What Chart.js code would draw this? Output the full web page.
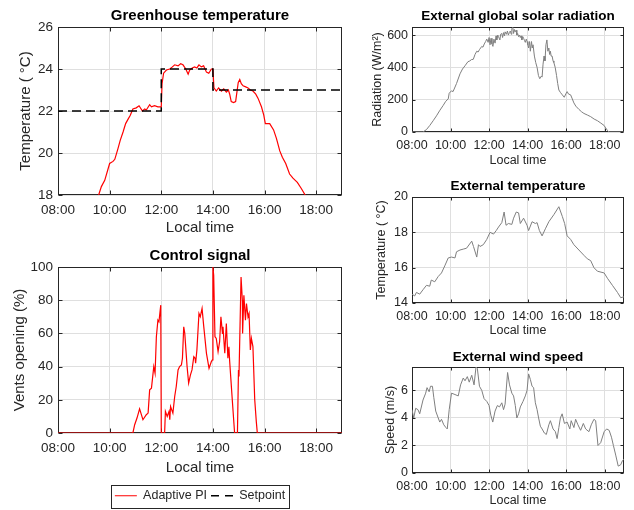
<!DOCTYPE html>
<html>
<head>
<meta charset="utf-8">
<script src="https://cdn.jsdelivr.net/npm/chart.js@4.4.0/dist/chart.umd.min.js"></script>
<style>
  html, body { margin: 0; padding: 0; background: #fff; }
  body { width: 634px; height: 510px; position: relative; overflow: hidden; }
  canvas { position: absolute; }
</style>
</head>
<body>
<canvas id="ghChart"></canvas>
<canvas id="ctrlChart"></canvas>
<canvas id="solarChart"></canvas>
<canvas id="extChart"></canvas>
<canvas id="windChart"></canvas>
<script>
// ---------- data (hours of the day, values) ----------
const timeTicks = [8, 10, 12, 14, 16, 18];

const ghTime = [9.3, 9.575, 9.68, 9.81, 10.0, 10.13, 10.2, 10.32, 10.41, 10.52, 10.62, 10.71, 10.8, 10.9, 11.03, 11.14, 11.27, 11.36, 11.42, 11.55, 11.62, 11.74, 11.87, 12.0,
  12.03, 12.09, 12.2, 12.33, 12.43, 12.52, 12.65, 12.75, 12.84, 12.95, 13.04, 13.1, 13.2, 13.29, 13.38, 13.46, 13.55, 13.64, 13.75, 13.84, 13.94, 14.0,
  14.04, 14.13, 14.22, 14.33, 14.42, 14.52, 14.6, 14.65, 14.71, 14.8, 14.88, 14.93, 14.98, 15.04, 15.1, 15.17, 15.27, 15.36, 15.45, 15.55, 15.66, 15.75,
  15.88, 15.97, 16.03, 16.2, 16.35, 16.46, 16.59, 16.69, 16.82, 16.97, 17.1, 17.27, 17.43, 17.62, 17.81];
const ghTemp = [17.0, 18.0, 18.4, 18.7, 19.5, 19.6, 19.7, 20.2, 20.6, 21.0, 21.4, 21.6, 21.8, 22.1, 22.15, 22.25, 22.0, 22.1, 22.05, 22.3, 22.2, 22.25, 22.2, 22.2,
  23.3, 23.8, 23.95, 24.0, 24.1, 24.2, 24.15, 24.25, 24.2, 24.0, 23.75, 23.95, 24.05, 24.1, 24.05, 24.2, 24.1, 24.15, 23.85, 23.8, 24.0, 24.0,
  23.1, 22.95, 23.1, 22.95, 23.05, 22.9, 23.0, 22.8, 22.45, 22.4, 22.45, 22.9, 23.35, 23.5, 23.3, 23.2, 23.15, 23.1, 23.0, 22.95, 22.8, 22.6,
  22.2, 21.8, 21.4, 21.4, 21.1, 20.7, 20.1, 19.8, 19.5, 19.0, 18.8, 18.6, 18.3, 17.9, 17.4];

const spTime = [8, 12, 12, 14, 14, 19];
const spTemp = [22, 22, 24, 24, 23, 23];
const ghTicks = [18, 20, 22, 24, 26];

const ctrlTime = [8.0, 10.9, 10.97, 11.06, 11.16, 11.29, 11.42, 11.49, 11.55, 11.62, 11.71, 11.76, 11.81, 11.87, 11.91, 11.98, 12.0, 12.13, 12.16, 12.23, 12.3, 12.33, 12.36, 12.45,
  12.52, 12.58, 12.65, 12.71, 12.78, 12.82, 12.87, 12.91, 13.0, 13.06, 13.13, 13.19, 13.26, 13.31, 13.33, 13.38, 13.46, 13.51, 13.58, 13.64, 13.75, 13.85, 13.94, 13.98,
  14.0, 14.03, 14.08, 14.13, 14.2, 14.26, 14.31, 14.37, 14.39, 14.46, 14.52, 14.58, 14.62, 14.65, 14.75, 14.84, 14.95, 14.99, 15.01, 15.09, 15.14, 15.15, 15.2, 15.26,
  15.3, 15.36, 15.4, 15.45, 15.49, 15.55, 15.62, 15.68, 15.72, 19.0];
const ctrlVal = [0, 0, 5, 9, 14.5, 8, 11, 12, 26, 27, 40, 36, 58, 68, 67, 77, 0, 0, 13, 10, 13, 8, 16, 12,
  22, 28, 38, 40, 41, 45, 64, 60, 40, 30, 35, 38, 46, 45, 42, 50, 72, 70, 75, 65, 48, 39, 43, 44,
  100, 95, 58, 57, 49, 55, 70, 60, 64, 48, 66, 45, 52, 43, 20, 0, 0, 38, 34, 94, 80, 60, 83, 68,
  78, 70, 72, 50, 57, 52, 20, 7, 0, 0];
const ctrlTicks = [0, 20, 40, 60, 80, 100];

const solarTime = [8.0, 8.57, 8.75, 8.92, 9.1, 9.27, 9.45, 9.62, 9.75, 9.88, 9.93, 10.05, 10.13, 10.31, 10.49, 10.62, 10.75, 10.9,
  11.0, 11.08, 11.18, 11.27, 11.36, 11.43, 11.5, 11.56, 11.62, 11.68, 11.75, 11.82, 11.88, 11.95, 12.0, 12.05, 12.1, 12.15, 12.2, 12.25,
  12.31, 12.36, 12.4, 12.45, 12.49, 12.56, 12.6, 12.66, 12.7, 12.75, 12.8, 12.83, 12.9, 12.95, 13.0, 13.05, 13.1, 13.15, 13.18, 13.23,
  13.27, 13.31, 13.35, 13.4, 13.44, 13.48, 13.53, 13.58, 13.62, 13.66, 13.7, 13.75, 13.79, 13.84, 13.88, 13.93, 13.97, 14.01, 14.05, 14.1,
  14.14, 14.2, 14.24, 14.28, 14.35, 14.42, 14.49, 14.56, 14.63, 14.7, 14.75, 14.8, 14.85, 14.9, 14.95, 15.0, 15.05, 15.1, 15.14, 15.18,
  15.22, 15.27, 15.32, 15.36, 15.43, 15.5, 15.56, 15.62, 15.7, 15.8, 15.9, 16.0, 16.05, 16.12, 16.23, 16.3, 16.4, 16.5, 16.66, 16.8,
  16.92, 17.1, 17.27, 17.45, 17.62, 17.8, 17.97, 18.05, 18.14, 18.22, 19.0];
const solarVal = [0, 0, 15, 40, 70, 100, 135, 165, 190, 205, 240, 255, 250, 300, 360, 390, 410, 435,
  440, 448, 450, 480, 500, 495, 510, 520, 530, 525, 545, 560, 575, 555, 585, 540, 580, 545, 530, 575,
  550, 595, 570, 600, 590, 570, 605, 610, 585, 615, 595, 620, 605, 625, 600, 615, 625, 605, 640, 648,
  610, 635, 620, 630, 600, 610, 590, 600, 585, 595, 570, 590, 580, 565, 555, 575, 560, 540, 520, 560,
  500, 560, 520, 540, 470, 430, 400, 350, 330, 345, 340, 420, 470, 440, 540, 570, 500, 520, 480, 500,
  470, 470, 440, 430, 400, 350, 300, 260, 245, 230, 215, 240, 250, 235, 230, 210, 180, 160, 140, 125,
  115, 105, 95, 80, 70, 55, 40, 25, 10, 0, 0];
const solarTicks = [0, 200, 400, 600];

const extTime = [8.0, 8.14, 8.23, 8.4, 8.57, 8.75, 8.92, 9.0, 9.18, 9.36, 9.53, 9.7, 9.88, 10.05, 10.23, 10.31, 10.49, 10.66, 10.83, 11.1, 11.19, 11.36, 11.45, 11.53,
  11.7, 11.88, 12.05, 12.23, 12.37, 12.49, 12.66, 12.78, 12.88, 13.0, 13.18, 13.27, 13.41, 13.53, 13.62, 13.79, 13.97, 14.05, 14.23, 14.4, 14.49, 14.61, 14.75, 14.92,
  15.1, 15.36, 15.62, 15.8, 15.92, 16.05, 16.23, 16.4, 16.66, 16.92, 17.1, 17.27, 17.44, 17.62, 17.97, 18.14, 18.4, 18.66, 18.83, 19.0];
const extTemp = [14.5, 14.4, 14.6, 14.5, 14.75, 15.0, 14.95, 15.3, 15.2, 15.5, 15.7, 16.1, 16.55, 16.6, 16.55, 16.9, 17.0, 17.05, 17.1, 17.5, 17.2, 16.6, 17.3, 17.2,
  17.3, 17.6, 18.0, 17.9, 18.1, 18.3, 18.55, 19.15, 18.4, 18.5, 18.45, 18.8, 19.15, 19.1, 18.5, 18.8, 18.4, 18.1, 18.6, 18.5, 18.55, 18.1, 17.8, 18.2,
  18.6, 19.0, 19.45, 18.9, 18.5, 17.8, 17.6, 17.3, 17.0, 16.7, 16.5, 16.4, 16.0, 15.8, 15.7, 15.4, 15.0, 14.6, 14.3, 14.35];
const extTicks = [14, 16, 18, 20];

const windTime = [8.0, 8.09, 8.19, 8.31, 8.4, 8.57, 8.71, 8.78, 8.89, 8.96, 9.06, 9.13, 9.23, 9.36, 9.44, 9.53, 9.65, 9.76, 9.83, 9.93, 10.05, 10.23, 10.4, 10.52,
  10.66, 10.75, 10.87, 10.97, 11.1, 11.22, 11.32, 11.39, 11.5, 11.62, 11.74, 11.88, 12.0, 12.09, 12.19, 12.31, 12.43, 12.54, 12.66, 12.75, 12.83, 12.96, 13.06, 13.18,
  13.27, 13.36, 13.44, 13.53, 13.62, 13.76, 13.88, 13.97, 14.05, 14.14, 14.23, 14.31, 14.4, 14.49, 14.57, 14.66, 14.75, 14.87, 14.97, 15.1, 15.18, 15.32, 15.44, 15.53,
  15.62, 15.7, 15.79, 15.91, 16.05, 16.19, 16.26, 16.4, 16.49, 16.61, 16.75, 16.89, 17.01, 17.18, 17.3, 17.44, 17.53, 17.65, 17.79, 17.97, 18.1, 18.23, 18.35, 18.45,
  18.57, 18.7, 18.83, 18.92, 19.0];
const windVal = [4.6, 4.0, 4.7, 4.6, 4.3, 5.3, 5.8, 6.2, 5.9, 6.3, 6.3, 5.5, 4.5, 4.0, 3.7, 3.9, 3.5, 3.3, 3.2, 4.6, 5.8, 5.7, 5.6, 6.4,
  6.9, 6.7, 7.0, 6.6, 7.1, 6.4, 7.7, 7.6, 6.3, 6.0, 5.4, 5.2, 4.9, 4.2, 3.7, 4.5, 4.9, 4.8, 5.1, 4.6, 5.0, 7.3, 6.4, 5.8,
  5.6, 4.9, 4.0, 4.3, 4.8, 5.2, 5.6, 6.0, 7.2, 6.8, 6.3, 6.2, 5.1, 4.6, 4.0, 3.4, 3.2, 2.9, 2.8, 3.5, 3.8, 3.2, 3.0, 2.5,
  3.3, 4.0, 4.3, 3.6, 3.7, 3.2, 3.8, 3.3, 3.9, 3.5, 3.1, 3.6, 3.2, 3.0, 3.5, 3.9, 3.8, 2.0, 2.2, 3.0, 3.2, 3.1, 2.6, 2.0,
  1.3, 0.5, 0.6, 0.9, 1.0];
const windTicks = [0, 2, 4, 6];

// ---------- style ----------
const FONT = '"Liberation Sans", Arial, Helvetica, sans-serif';
const INK = '#262626';
const GRID = '#dfdfdf';
const RED = '#ff0000';
const GRAY = '#7f7f7f';
const LEG_FS = 12.5, LEG_PAD = 4;

const pts = (xs, ys) => xs.map((x, i) => ({ x, y: ys[i] }));
const hhmm = v => String(v).padStart(2, '0') + ':00';

// box, inward ticks and title in MATLAB style
const frame = {
  id: 'frame',
  beforeDatasetsDraw(chart, args, opts) {
    const { ctx, chartArea: a, scales } = chart;
    const L = Math.round(a.left) + 0.5, R = Math.round(a.right) - 0.5;
    const T = Math.round(a.top) + 0.5, B = Math.round(a.bottom) - 0.5;
    const len = opts.tick;
    ctx.save();
    ctx.strokeStyle = INK;
    ctx.lineWidth = 1;
    ctx.strokeRect(L, T, R - L, B - T);
    ctx.beginPath();
    scales.x.ticks.forEach(t => {
      const px = Math.round(scales.x.getPixelForValue(t.value)) + 0.5;
      ctx.moveTo(px, B); ctx.lineTo(px, B - len);
      ctx.moveTo(px, T); ctx.lineTo(px, T + len);
    });
    scales.y.ticks.forEach(t => {
      const py = Math.round(scales.y.getPixelForValue(t.value)) + 0.5;
      ctx.moveTo(L, py); ctx.lineTo(L + len, py);
      ctx.moveTo(R, py); ctx.lineTo(R - len, py);
    });
    ctx.stroke();
    ctx.fillStyle = '#000';
    ctx.font = 'bold ' + opts.size + 'px ' + FONT;
    ctx.textAlign = 'center';
    ctx.textBaseline = 'middle';
    ctx.fillText(opts.text, (a.left + a.right) / 2, opts.y);
    ctx.restore();
  },
  afterDraw(chart, args, opts) {
    if (!opts.legendBox) return;
    const hb = chart.legend.legendHitBoxes;
    if (!hb || !hb.length) return;
    const l = Math.min(...hb.map(h => h.left)) - 4;
    const r = Math.max(...hb.map(h => h.left + h.width)) + 4;
    const t = Math.min(...hb.map(h => h.top)) - 5;
    const b = Math.max(...hb.map(h => h.top + h.height)) + 5;
    const { ctx } = chart;
    ctx.save();
    ctx.strokeStyle = INK;
    ctx.lineWidth = 1;
    ctx.strokeRect(Math.round(l) + 0.5, Math.round(t) + 0.5, Math.round(r - l), Math.round(b - t));
    ctx.restore();
  }
};

function panel(id, p) {
  const cv = document.getElementById(id);
  const box = p.box, area = p.area;
  cv.width = box.w; cv.height = box.h;
  cv.style.left = box.x + 'px';
  cv.style.top = box.y + 'px';

  const legH = p.legend ? LEG_FS + LEG_PAD + 10 : 0;
  const lh = p.labelFs * 1.2;
  const yWidth = area.left - box.x;
  const xHeight = box.h - legH - (area.bottom - box.y);
  const tickFont = { family: FONT, size: p.tickFs };
  const labelFont = { family: FONT, size: p.labelFs };

  const scales = {
    x: {
      type: 'linear', min: 8, max: 19,
      afterBuildTicks: s => { s.ticks = timeTicks.map(v => ({ value: v })); },
      afterFit: s => { s.height = xHeight; },
      ticks: { callback: hhmm, font: tickFont, color: INK, padding: p.xPad, maxRotation: 0, autoSkip: false },
      grid: { color: GRID, drawTicks: false },
      border: { display: false },
      title: { display: true, text: 'Local time', font: labelFont, color: INK,
        padding: { top: 0, bottom: (box.h - legH) - (p.xTitleY - box.y) - lh / 2 } }
    },
    y: {
      type: 'linear', min: p.yMin, max: p.yMax,
      afterBuildTicks: s => { s.ticks = p.yTicks.map(v => ({ value: v })); },
      afterFit: s => { s.width = yWidth; },
      ticks: { font: tickFont, color: INK, padding: p.yPad },
      grid: { color: GRID, drawTicks: false },
      border: { display: false },
      title: { display: true, text: p.yLabel, font: labelFont, color: INK,
        padding: { top: p.yTitleX - box.x - lh / 2, bottom: 0 } }
    }
  };
  let padRight = box.x + box.w - area.right;
  if (p.rightSpace) {
    // empty right-hand axis so that the legend centres under the plot
    const w = padRight;
    scales.yr = {
      type: 'linear', position: 'right', display: true,
      ticks: { display: false }, grid: { display: false }, border: { display: false },
      afterFit: s => { s.width = w; }
    };
    padRight = 0;
  }

  return new Chart(cv, {
    type: 'line',
    data: { datasets: p.datasets },
    options: {
      responsive: false,
      animation: false,
      events: [],
      layout: { padding: { top: area.top - box.y, right: padRight, left: 0, bottom: 0 } },
      elements: { point: { radius: 0 }, line: { tension: 0 } },
      scales,
      plugins: {
        legend: p.legend || { display: false },
        tooltip: { enabled: false },
        frame: { text: p.title, size: p.titleFs, y: p.titleY - box.y, tick: p.tickLen, legendBox: !!p.legend }
      }
    },
    plugins: [frame]
  });
}

panel('ghChart', {
  box: { x: 0, y: 0, w: 350, h: 240 },
  area: { left: 58, top: 27, right: 342, bottom: 195 },
  title: 'Greenhouse temperature', titleFs: 15, titleY: 16,
  tickFs: 13.5, labelFs: 15, xPad: 7, yPad: 5, tickLen: 4,
  xTitleY: 228, yTitleX: 26,
  yMin: 18, yMax: 26, yTicks: ghTicks, yLabel: 'Temperature ( °C)',
  datasets: [
    { label: 'Setpoint', data: pts(spTime, spTemp), borderColor: '#000', borderWidth: 1.5, borderDash: [9, 5] },
    { label: 'Adaptive PI', data: pts(ghTime, ghTemp), borderColor: RED, borderWidth: 1.2 }
  ]
});

panel('ctrlChart', {
  box: { x: 0, y: 240, w: 400, h: 272 },
  area: { left: 58, top: 267, right: 342, bottom: 433 },
  rightSpace: true,
  title: 'Control signal', titleFs: 15, titleY: 256,
  tickFs: 13.5, labelFs: 15, xPad: 7, yPad: 5, tickLen: 4,
  xTitleY: 468, yTitleX: 20,
  yMin: 0, yMax: 100, yTicks: ctrlTicks, yLabel: 'Vents opening (%)',
  datasets: [
    { label: 'Adaptive PI', data: pts(ctrlTime, ctrlVal), borderColor: RED, borderWidth: 1.2 }
  ],
  legend: {
    display: true, position: 'bottom',
    labels: {
      font: { family: FONT, size: LEG_FS }, color: INK, padding: LEG_PAD,
      usePointStyle: true, pointStyleWidth: 22,
      generateLabels: () => [
        { text: 'Adaptive PI', strokeStyle: RED, fillStyle: RED, lineWidth: 1.2, lineDash: [], pointStyle: 'line', fontColor: INK, hidden: false },
        { text: 'Setpoint', strokeStyle: '#000', fillStyle: '#000', lineWidth: 1.5, lineDash: [8, 6], pointStyle: 'line', fontColor: INK, hidden: false }
      ]
    }
  }
});

panel('solarChart', {
  box: { x: 340, y: 0, w: 294, h: 170 },
  area: { left: 412, top: 27, right: 624, bottom: 132 },
  title: 'External global solar radiation', titleFs: 13.5, titleY: 16,
  tickFs: 12.5, labelFs: 12.5, xPad: 6.5, yPad: 4, tickLen: 3,
  xTitleY: 161, yTitleX: 378,
  yMin: 0, yMax: 650, yTicks: solarTicks, yLabel: 'Radiation (W/m²)',
  datasets: [
    { label: 'Radiation', data: pts(solarTime, solarVal), borderColor: GRAY, borderWidth: 1 }
  ]
});

panel('extChart', {
  box: { x: 340, y: 170, w: 294, h: 170 },
  area: { left: 412, top: 197, right: 624, bottom: 303 },
  title: 'External temperature', titleFs: 13.5, titleY: 186,
  tickFs: 12.5, labelFs: 12.5, xPad: 6.5, yPad: 4, tickLen: 3,
  xTitleY: 331, yTitleX: 382,
  yMin: 14, yMax: 20, yTicks: extTicks, yLabel: 'Temperature ( °C)',
  datasets: [
    { label: 'Temperature', data: pts(extTime, extTemp), borderColor: GRAY, borderWidth: 1 }
  ]
});

panel('windChart', {
  box: { x: 340, y: 340, w: 294, h: 170 },
  area: { left: 412, top: 367, right: 624, bottom: 473 },
  title: 'External wind speed', titleFs: 13.5, titleY: 357,
  tickFs: 12.5, labelFs: 12.5, xPad: 6.5, yPad: 4, tickLen: 3,
  xTitleY: 501, yTitleX: 391,
  yMin: 0, yMax: 7.7, yTicks: windTicks, yLabel: 'Speed (m/s)',
  datasets: [
    { label: 'Speed', data: pts(windTime, windVal), borderColor: GRAY, borderWidth: 1 }
  ]
});
</script>
</body>
</html>
